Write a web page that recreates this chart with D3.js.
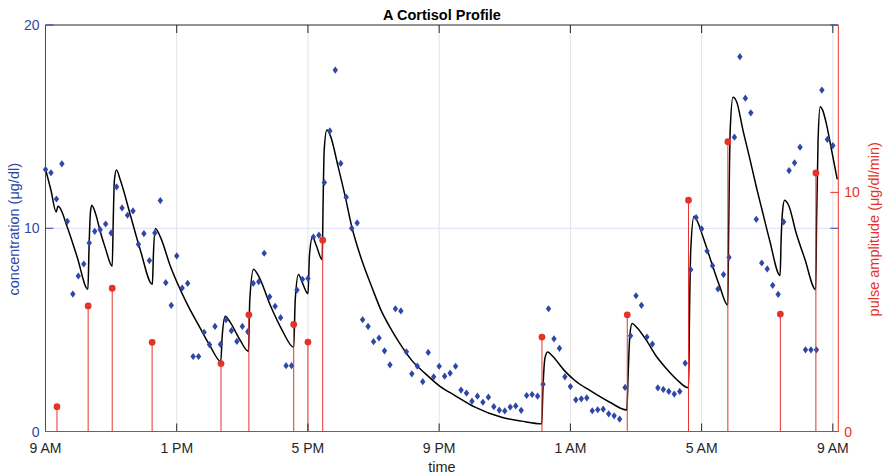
<!DOCTYPE html>
<html>
<head>
<meta charset="utf-8">
<script src="https://cdn.jsdelivr.net/npm/d3@7/dist/d3.min.js"></script>
<style>
  body { margin: 0; background: #fff; }
  svg { font-family: "Liberation Sans", Arial, sans-serif; }
</style>
</head>
<body>
<div id="chart"></div>
<script>
// measured cortisol, one sample every 10 min starting 9 AM
var sampleMin = [
  0, 10, 20, 30, 40, 50, 60, 70, 80, 90, 100, 110, 120, 130, 140, 150, 160, 170, 180, 190,
  200, 210, 220, 230, 240, 250, 260, 270, 280, 290, 300, 310, 320, 330, 340, 350, 360, 370, 380, 390,
  400, 410, 420, 430, 440, 450, 460, 470, 480, 490, 500, 510, 520, 530, 540, 550, 560, 570, 580, 590,
  600, 610, 620, 630, 640, 650, 660, 670, 680, 690, 700, 710, 720, 730, 740, 750, 760, 770, 780, 790,
  800, 810, 820, 830, 840, 850, 860, 870, 880, 890, 900, 910, 920, 930, 940, 950, 960, 970, 980, 990,
  1000, 1010, 1020, 1030, 1040, 1050, 1060, 1070, 1080, 1090, 1100, 1110, 1120, 1130, 1140, 1150, 1160, 1170, 1180, 1190,
  1200, 1210, 1220, 1230, 1240, 1250, 1260, 1270, 1280, 1290, 1300, 1310, 1320, 1330, 1340, 1350, 1360, 1370, 1380, 1390,
  1400, 1410, 1420, 1430, 1440
];
var concentration = [
  12.89, 12.73, 11.44, 13.17, 10.34, 6.76, 7.65, 8.24, 9.28, 9.85, 9.93, 10.21, 9.77, 12.04, 11.0, 10.64, 10.85, 9.21, 9.74, 8.41,
  9.77, 11.36, 7.32, 6.21, 8.64, 7.06, 7.29, 3.69, 3.69, 4.88, 4.27, 5.17, 4.29, 5.50, 4.96, 4.43, 5.17, 4.91, 7.29, 7.37,
  8.77, 6.63, 6.16, 5.60, 3.24, 3.24, 6.96, 7.49, 7.53, 9.57, 9.66, 12.25, 14.79, 17.78, 13.19, 11.53, 10.0, 10.26, 5.50, 5.17,
  4.42, 4.60, 3.97, 3.28, 6.04, 5.93, 3.92, 2.84, 3.22, 2.45, 3.89, 2.69, 3.21, 2.72, 2.87, 3.21, 2.04, 1.89, 1.49, 1.74,
  1.44, 1.69, 1.22, 1.05, 1.01, 1.20, 1.26, 1.04, 1.77, 1.82, 1.74, 2.33, 6.04, 4.56, 4.09, 2.69, 2.21, 1.56, 1.61, 1.65,
  1.02, 1.07, 1.10, 0.87, 0.77, 0.61, 2.17, 4.71, 6.68, 6.21, 4.65, 4.30, 2.15, 2.07, 1.97, 1.84, 1.97, 3.36, 7.96, 10.53,
  9.97, 8.88, 8.16, 7.01, 7.72, 8.57, 14.48, 18.44, 16.40, 15.68, 10.44, 8.29, 8.0, 7.19, 6.75, 10.31, 12.84, 13.22, 13.99, 4.02,
  4.02, 4.02, 16.80, 14.37, 14.07
];

// estimated secretory pulses (right axis)
var pulseMin = [21, 78, 122, 195, 321, 372, 454, 480, 507, 908, 1064, 1176, 1248, 1344, 1409];
var pulseAmp = [1.04, 5.25, 5.99, 3.73, 2.84, 4.88, 4.48, 3.74, 8.0, 3.95, 4.88, 9.67, 12.12, 4.91, 10.81];

// model curve
var modelMin = [
  0, 10.0, 19.5, 22.8, 25.6, 39.6, 57.9, 77.6, 79.5, 82.2, 84.6, 91.3, 100.5, 109.6, 122, 123.9, 126.0, 129.7, 137.0, 155.3,
  173.5, 195.5, 197.3, 200.9, 210.2, 228.4, 255.8, 283.2, 301.4, 320.6, 323.3, 328.8, 337.9, 356.2, 371.2, 373.6, 380.5, 389.1, 411.1, 432.9,
  454.0, 456.7, 462.7, 469.5, 480.1, 482.8, 488.3, 495.1, 506.0, 507.8, 509.7, 514.6, 520.6, 535.3, 548.0, 560.3, 577.3, 596.8, 613.8, 633.3,
  650.3, 669.9, 694.2, 721.6, 749.0, 785.5, 834.3, 870.8, 907.6, 909.7, 913.4, 918.3, 926.2, 949.9, 968.2, 995.6, 1032.1, 1063.2, 1065.9, 1068.7,
  1072.9, 1081.5, 1099.2, 1116.2, 1135.8, 1154.5, 1176.1, 1177.7, 1180.1, 1186.1, 1192.9, 1202.6, 1220.8, 1233.1, 1247.9, 1249.5, 1252.3, 1257.4, 1264.2, 1275.6,
  1287.9, 1300.1, 1311.6, 1324.4, 1343.6, 1345.4, 1348.2, 1351.8, 1359.1, 1373.2, 1388.4, 1408.7, 1410.3, 1413.0, 1417.0, 1421.3, 1428.0, 1437.7, 1448.1
];
var modelConc = [
  12.91, 11.87, 10.80, 11.08, 11.03, 10.07, 8.59, 7.0, 8.92, 10.79, 11.13, 10.74, 9.80, 9.01, 8.13, 10.39, 12.36, 12.86, 12.36, 10.64,
  8.92, 7.24, 8.67, 9.99, 9.56, 8.13, 6.45, 5.07, 4.19, 3.45, 4.73, 5.67, 5.37, 4.48, 3.94, 6.45, 7.98, 7.68, 6.21, 4.98,
  4.14, 6.45, 7.73, 7.34, 6.78, 8.67, 9.57, 9.16, 8.46, 11.38, 13.84, 14.83, 14.58, 13.02, 11.58, 10.06, 8.52, 7.11, 5.96, 4.98,
  4.24, 3.50, 2.86, 2.22, 1.77, 1.20, 0.70, 0.51, 0.38, 2.02, 3.60, 3.91, 3.74, 2.97, 2.51, 2.02, 1.44, 1.06, 3.00, 4.73,
  5.31, 5.12, 4.48, 3.74, 3.09, 2.56, 2.15, 5.47, 8.92, 10.59, 10.30, 9.57, 8.09, 7.14, 6.21, 9.90, 14.83, 16.44, 16.21, 14.83,
  13.45, 12.03, 10.79, 9.41, 7.68, 9.41, 10.89, 11.38, 11.13, 9.74, 8.52, 6.98, 10.39, 14.33, 15.98, 15.81, 15.16, 13.84, 12.40
];

var timeTicks = [0, 240, 480, 720, 960, 1200, 1440];
var timeLabels = ["9 AM", "1 PM", "5 PM", "9 PM", "1 AM", "5 AM", "9 AM"];
var concTicks = [0, 10, 20];
var ampTicks = [0, 10];

var W = 885, H = 473;
var margin = {top: 25, right: 46.7, bottom: 41.5, left: 45.5},
    width = W - margin.left - margin.right,
    height = H - margin.top - margin.bottom;

var blue = "#2f47a6", red = "#e5332a", ink = "#262626";
var fs = "14px";

var x = d3.scaleLinear().domain([0, 1450]).range([0, width]);
var yL = d3.scaleLinear().domain([0, 20]).range([height, 0]);
var yR = d3.scaleLinear().domain([0, 17]).range([height, 0]);

var svg = d3.select("#chart").append("svg")
    .attr("width", W).attr("height", H)
  .append("g")
    .attr("transform", "translate(" + margin.left + "," + margin.top + ")");

svg.append("defs").append("clipPath").attr("id", "clip")
  .append("rect").attr("width", width).attr("height", height);

// grid
svg.append("g").selectAll("line").data(timeTicks.slice(1)).enter().append("line")
    .attr("x1", d => x(d)).attr("x2", d => x(d))
    .attr("y1", 0).attr("y2", height)
    .style("stroke", "#e3e3e3").style("stroke-width", 1);
svg.append("line")
    .attr("x1", 0).attr("x2", width).attr("y1", yL(10)).attr("y2", yL(10))
    .style("stroke", "#dcdcf4").style("stroke-width", 1);

// model curve
var modelPts = modelMin.map((t, i) => [t, modelConc[i]]);
var line = d3.line()
    .x(d => x(d[0]))
    .y(d => yL(d[1]))
    .curve(d3.curveMonotoneX);
svg.append("path")
    .attr("clip-path", "url(#clip)")
    .attr("d", line(modelPts))
    .style("fill", "none").style("stroke", "#000").style("stroke-width", 1.5);

// samples as diamonds
svg.append("g").selectAll("path").data(sampleMin).enter().append("path")
    .attr("transform", (d, i) => "translate(" + x(d) + "," + yL(concentration[i]) + ")")
    .attr("d", "M0,-3.6L2.7,0L0,3.6L-2.7,0Z")
    .style("fill", blue);

// pulse stems
var stems = svg.append("g");
stems.selectAll("line").data(pulseMin).enter().append("line")
    .attr("x1", d => x(d)).attr("x2", d => x(d))
    .attr("y1", yR(0)).attr("y2", (d, i) => yR(pulseAmp[i]))
    .style("stroke", red).style("stroke-width", 1);
stems.selectAll("circle").data(pulseMin).enter().append("circle")
    .attr("cx", d => x(d)).attr("cy", (d, i) => yR(pulseAmp[i]))
    .attr("r", 3.4)
    .style("fill", red);

// frame and ticks
var tl = 8;
svg.append("line").attr("x1", 0).attr("x2", width).attr("y1", 0).attr("y2", 0)
    .style("stroke", ink);
svg.append("g").selectAll("line").data(timeTicks).enter().append("line")
    .attr("x1", d => x(d)).attr("x2", d => x(d)).attr("y1", 0).attr("y2", tl)
    .style("stroke", ink);
svg.append("g").selectAll("line").data(timeTicks).enter().append("line")
    .attr("x1", d => x(d)).attr("x2", d => x(d)).attr("y1", height).attr("y2", height - tl)
    .style("stroke", ink);

svg.append("line").attr("x1", 0).attr("x2", 0).attr("y1", 0).attr("y2", height)
    .style("stroke", blue);
svg.append("g").selectAll("line").data(concTicks).enter().append("line")
    .attr("x1", 0).attr("x2", tl).attr("y1", d => yL(d)).attr("y2", d => yL(d))
    .style("stroke", blue);
svg.append("g").selectAll("line").data(concTicks).enter().append("line")
    .attr("x1", width - tl).attr("x2", width).attr("y1", d => yL(d)).attr("y2", d => yL(d))
    .style("stroke", blue);

svg.append("line").attr("x1", 0).attr("x2", width).attr("y1", height).attr("y2", height)
    .style("stroke", red);
svg.append("line").attr("x1", width).attr("x2", width).attr("y1", 0).attr("y2", height)
    .style("stroke", red);
svg.append("g").selectAll("line").data(ampTicks).enter().append("line")
    .attr("x1", width - tl).attr("x2", width).attr("y1", d => yR(d)).attr("y2", d => yR(d))
    .style("stroke", red);

// tick labels
svg.append("g").selectAll("text").data(timeTicks).enter().append("text")
    .attr("x", d => x(d)).attr("y", height + 21)
    .attr("text-anchor", "middle")
    .style("font-size", fs).style("fill", ink)
    .text((d, i) => timeLabels[i]);
svg.append("g").selectAll("text").data(concTicks).enter().append("text")
    .attr("x", -6).attr("y", d => yL(d) + 5)
    .attr("text-anchor", "end")
    .style("font-size", fs).style("fill", blue)
    .text(d => d);
svg.append("g").selectAll("text").data(ampTicks).enter().append("text")
    .attr("x", width + 6).attr("y", d => yR(d) + 5)
    .style("font-size", fs).style("fill", red)
    .text(d => d);

// titles
svg.append("text")
    .attr("x", width / 2).attr("y", -5)
    .attr("text-anchor", "middle")
    .style("font-size", "14.5px").style("font-weight", "bold").style("fill", "#000")
    .text("A Cortisol Profile");
svg.append("text")
    .attr("x", width / 2).attr("y", height + 40)
    .attr("text-anchor", "middle")
    .style("font-size", "14.5px").style("fill", ink)
    .text("time");
svg.append("text")
    .attr("transform", "translate(" + (-27) + "," + (height / 2 + 1) + ") rotate(-90)")
    .attr("text-anchor", "middle")
    .style("font-size", "14.5px").style("fill", blue)
    .text("concentration (\u03bcg/dl)");
svg.append("text")
    .attr("transform", "translate(" + (width + 41) + "," + (height / 2 + 1) + ") rotate(-90)")
    .attr("text-anchor", "middle")
    .style("font-size", "14.5px").style("fill", red)
    .text("pulse amplitude (\u03bcg/dl/min)");
</script>
</body>
</html>
